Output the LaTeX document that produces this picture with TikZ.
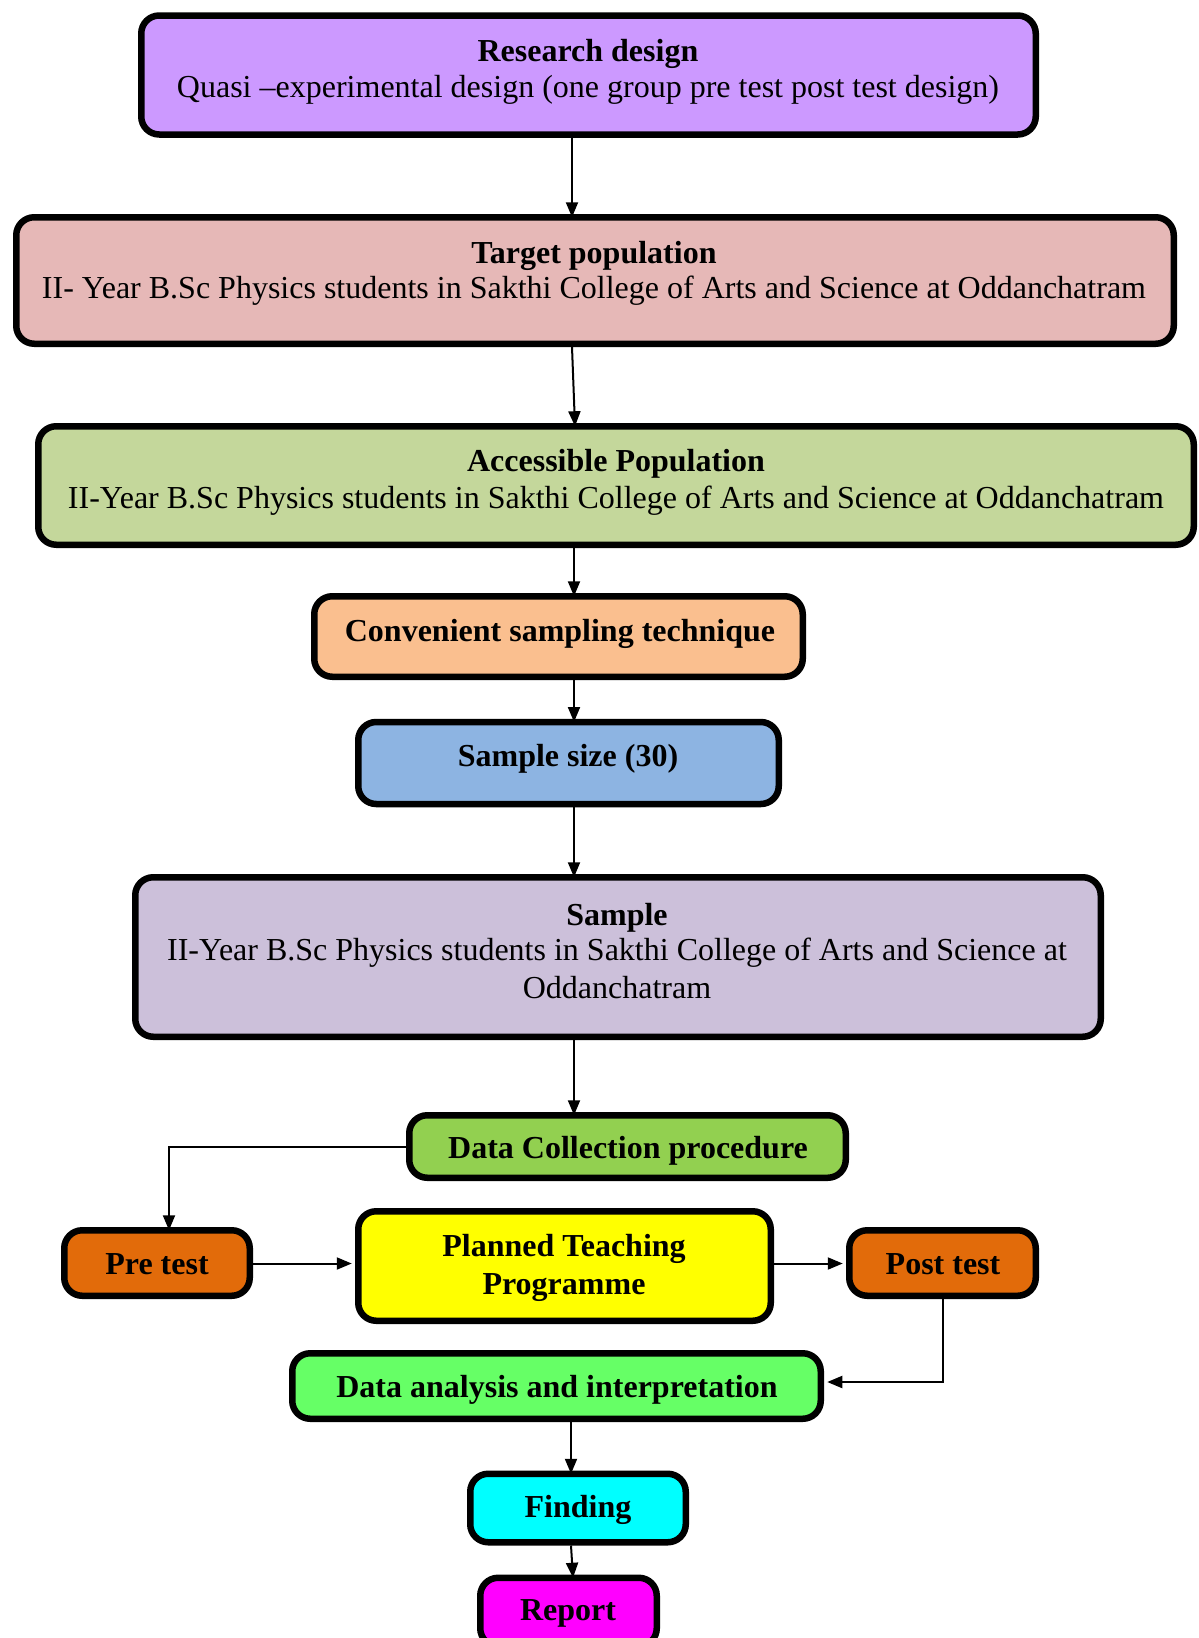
\documentclass[tikz,border=0pt]{standalone}
\usepackage{fontspec}
\setmainfont{Liberation Serif}
\usetikzlibrary{arrows.meta,calc}
\definecolor{cRD}{HTML}{CC99FF}
\definecolor{cTP}{HTML}{E6B8B7}
\definecolor{cAP}{HTML}{C4D79B}
\definecolor{cCS}{HTML}{FABF8F}
\definecolor{cSS}{HTML}{8DB4E2}
\definecolor{cSA}{HTML}{CCC0DA}
\definecolor{cDC}{HTML}{92D050}
\definecolor{cPT}{HTML}{E26B0A}
\definecolor{cPL}{HTML}{FFFF00}
\definecolor{cDA}{HTML}{66FF66}
\definecolor{cFI}{HTML}{00FFFF}
\definecolor{cRE}{HTML}{FF00FF}
\tikzset{
  box/.style={draw=black, line width=6.5pt, rounded corners=18pt, inner sep=0pt},
  txt/.style={inner sep=0pt, text height=0.7em, text depth=0.2em, font=\fontsize{32}{38}\selectfont},
  btxt/.style={txt, font=\fontsize{32}{38}\selectfont\bfseries},
  arr/.style={line width=2pt, -{Triangle[length=15pt,width=12pt]}},
}
\newcommand{\boxat}[6]{\node[box, fill=#6, minimum width={#4-6.5pt}, minimum height={#5-6.5pt}] (#1) at (#2,#3) {};}
\begin{document}
\begin{tikzpicture}[x=1pt,y=-1pt]
\useasboundingbox (0,0) rectangle (1199,1638);
% boxes: name, cx, cy, w, h, colour
\boxat{rd}{588.5}{75}{901pt}{125.5pt}{cRD}
\boxat{tp}{595}{280.5}{1164pt}{133pt}{cTP}
\boxat{ap}{616}{485.5}{1162pt}{125pt}{cAP}
\boxat{cs}{558.5}{636.5}{495pt}{87pt}{cCS}
\boxat{ss}{568.5}{763}{427pt}{88.5pt}{cSS}
\boxat{sa}{618}{957}{972pt}{166pt}{cSA}
\boxat{dc}{627.5}{1146.5}{443pt}{69pt}{cDC}
\boxat{pre}{157}{1263}{192pt}{72pt}{cPT}
\boxat{pl}{564.5}{1266}{419pt}{116pt}{cPL}
\boxat{post}{942.5}{1263}{193pt}{72pt}{cPT}
\boxat{da}{556.5}{1386}{535pt}{72pt}{cDA}
\boxat{fi}{578}{1508}{222pt}{75pt}{cFI}
\boxat{re}{568.5}{1612}{183pt}{75pt}{cRE}
% texts
\node[btxt] (rdT) at (588,59) {Research design};
\node[txt] (rdS) at (588,94.5) {Quasi –experimental design (one group pre test post test design)};
\node[btxt] (tpT) at (594,260.5) {Target population};
\node[txt] (tpS) at (594,296) {II- Year B.Sc Physics students in Sakthi College of Arts and Science at Oddanchatram};
\node[btxt] (apT) at (616,468.5) {Accessible Population};
\node[txt] (apS) at (616,506) {II-Year B.Sc Physics students in Sakthi College of Arts and Science at Oddanchatram};
\node[btxt] (csT) at (560,639) {Convenient sampling technique};
\node[btxt] (ssT) at (568,764) {Sample size (30)};
\node[btxt] (saT) at (617,923) {Sample};
\node[txt] (saS) at (617,958) {II-Year B.Sc Physics students in Sakthi College of Arts and Science at};
\node[txt] (saS2) at (617,996) {Oddanchatram};
\node[btxt] (dcT) at (628,1156) {Data Collection procedure};
\node[btxt] (preT) at (157,1272) {Pre test};
\node[btxt] (plT) at (564,1254) {Planned Teaching};
\node[btxt] (plT2) at (564,1292) {Programme};
\node[btxt] (postT) at (943,1272) {Post test};
\node[btxt] (daT) at (557,1395) {Data analysis and interpretation};
\node[btxt] (fiT) at (578,1515) {Finding};
\node[btxt] (reT) at (568,1618) {Report};
% helper coordinates
\coordinate (xA) at (572,0);
\coordinate (xB) at (575,0);
\coordinate (xC) at (574,0);
\coordinate (xD) at (169,0);
\coordinate (xE) at (571,0);
\coordinate (xF) at (573,0);
\coordinate (yP) at (0,1263.5);
\coordinate (yQ) at (0,1382);
% connectors
\draw[arr] (rd.south -| xA) -- ([yshift=-3.25pt]tp.north -| xA);
\draw[arr] (tp.south -| xA) -- ([yshift=-3.25pt]ap.north -| xB);
\draw[arr] (ap.south -| xC) -- ([yshift=-3.25pt]cs.north -| xC);
\draw[arr] (cs.south -| xC) -- ([yshift=-3.25pt]ss.north -| xC);
\draw[arr] (ss.south -| xC) -- ([yshift=-3.25pt]sa.north -| xC);
\draw[arr] (sa.south -| xC) -- ([yshift=-3.25pt]dc.north -| xC);
\draw[arr] (dc.west) -| ([yshift=-3.25pt]pre.north -| xD);
\draw[arr] (pre.east |- yP) -- ([xshift=-3.25pt]pl.west |- yP);
\draw[arr] (pl.east |- yP) -- ([xshift=-3.25pt]post.west |- yP);
\draw[arr] (post.south) |- ([xshift=3.25pt]da.east |- yQ);
\draw[arr] (da.south -| xE) -- ([yshift=-3.25pt]fi.north -| xE);
\draw[arr] (fi.south -| xE) -- ([yshift=-3.25pt]re.north -| xF);
\end{tikzpicture}
\end{document}
